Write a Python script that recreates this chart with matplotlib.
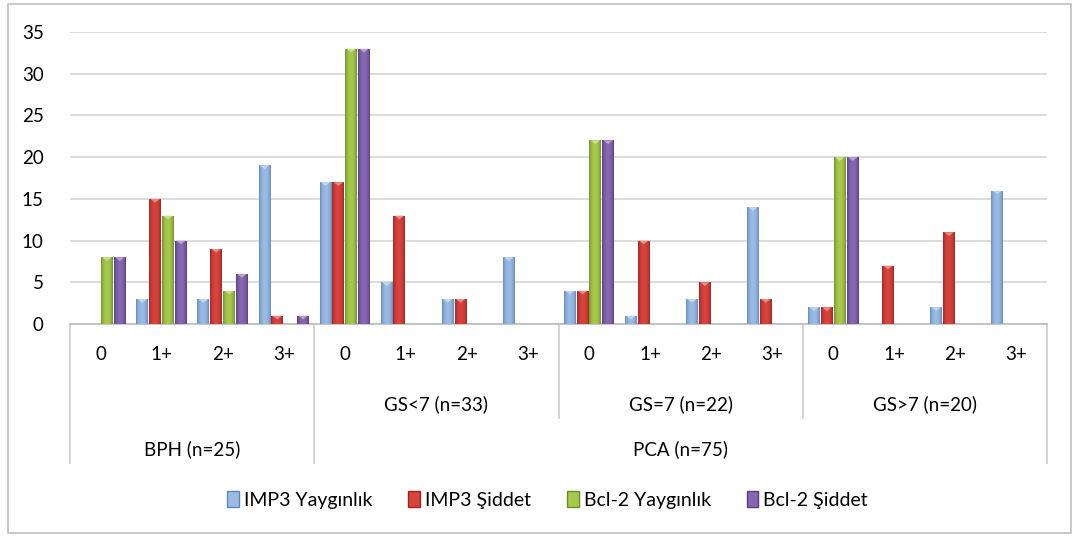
import numpy as np
import matplotlib
matplotlib.use("Agg")
from matplotlib import pyplot as plt
from matplotlib.patches import Rectangle, Polygon, Patch
from matplotlib.colors import to_rgb
import matplotlib.transforms as mtransforms

plt.rcParams['font.family'] = ['Lato', 'DejaVu Sans']

# data
levels = ['0', '1+', '2+', '3+'] * 4
subgroups = ['', 'GS<7 (n=33)', 'GS=7 (n=22)', 'GS>7 (n=20)']
topgroups = ['BPH (n=25)', 'PCA (n=75)']
series_names = ['IMP3 Yaygınlık', 'IMP3 Şiddet', 'Bcl-2 Yaygınlık', 'Bcl-2 Şiddet']
imp3_yaygin = [0, 3, 3, 19, 17, 5, 3, 8, 4, 1, 3, 14, 2, 0, 2, 16]
imp3_siddet = [0, 15, 9, 1, 17, 13, 3, 0, 4, 10, 5, 3, 2, 7, 11, 0]
bcl2_yaygin = [8, 13, 4, 0, 33, 0, 0, 0, 22, 0, 0, 0, 20, 0, 0, 0]
bcl2_siddet = [8, 10, 6, 1, 33, 0, 0, 0, 22, 0, 0, 0, 20, 0, 0, 0]
yticks = [0, 5, 10, 15, 20, 25, 30, 35]

# (center, edge) colours for the bevel look
colors = [('#9BBBE3', '#5E86BD'),
          ('#D8433D', '#9A2420'),
          ('#A6C94C', '#6C8C2A'),
          ('#8668B2', '#563B7E')]

W, H = 1078, 540
fig = plt.figure(figsize=(W / 100, H / 100), dpi=100)
ax = fig.add_axes([70 / W, 1 - 324 / H, (1047 - 70) / W, (324 - 32) / H])

x = np.arange(len(levels))
step = 0.21
bw = 0.195
t = np.linspace(0, 1, 64)
prof = np.sin(np.pi * t) ** 0.6

allvals = [imp3_yaygin, imp3_siddet, bcl2_yaygin, bcl2_siddet]
for i, vals in enumerate(allvals):
    c_in = np.array(to_rgb(colors[i][0]))
    c_out = np.array(to_rgb(colors[i][1]))
    grad = c_out[None, :] + (c_in - c_out)[None, :] * prof[:, None]
    grad = grad[None, :, :]
    bars = ax.bar(x + (i - 1.5) * step, vals, width=bw, color=colors[i][0],
                  edgecolor='none', zorder=3)
    for b in bars:
        h = b.get_height()
        if h <= 0:
            continue
        x0 = b.get_x()
        x1 = x0 + b.get_width()
        im = ax.imshow(grad, extent=(x0, x1, 0, h), aspect='auto', zorder=3.1,
                       interpolation='bilinear')
        im.set_clip_path(b)
        # little lighter bevel at the top
        light = tuple(np.clip(c_in * 0.5 + 0.5, 0, 1))
        tri = Polygon([(x0 + 0.02, h), (x1 - 0.02, h),
                       ((x0 + x1) / 2, h - 0.45)],
                      closed=True, facecolor=light, edgecolor='none',
                      alpha=0.8, zorder=3.2)
        ax.add_patch(tri)

ax.set_xlim(-0.5, len(levels) - 0.5)
ax.set_ylim(0, 35)
ax.set_yticks(yticks)
ax.yaxis.grid(True, color='#D9D9D9', linewidth=1.3, zorder=0)
ax.set_axisbelow(True)
for s in ['top', 'right', 'left']:
    ax.spines[s].set_visible(False)
ax.spines['bottom'].set_color('#BFBFBF')
ax.spines['bottom'].set_linewidth(1.3)
ax.tick_params(axis='y', length=0, labelsize=13.5, colors='#000000', pad=19)
ax.set_xticks([])

# category table below the plot, in pixel rows
def ypx(p):
    return (324 - p) / (324 - 32)

tr = mtransforms.blended_transform_factory(ax.transData, ax.transAxes)
line_kw = dict(color='#D0D0D0', linewidth=1.3, transform=tr, clip_on=False)

for xi, lab in zip(x, levels):
    ax.text(xi, ypx(354), lab, transform=tr, ha='center', va='center', fontsize=13.5)

for k, lab in enumerate(subgroups):
    if lab:
        ax.text(4 * k + 1.5, ypx(404), lab, transform=tr, ha='center',
                va='center', fontsize=13.5)

ax.text(1.5, ypx(449), topgroups[0], transform=tr, ha='center', va='center', fontsize=13.5)
ax.text(9.5, ypx(449), topgroups[1], transform=tr, ha='center', va='center', fontsize=13.5)

for xs in [-0.5, 3.5, 15.5]:
    ax.plot([xs, xs], [0, ypx(463)], **line_kw)
for xs in [7.5, 11.5]:
    ax.plot([xs, xs], [0, ypx(418)], **line_kw)

# legend
handles = []
for i in range(4):
    handles.append(Patch(facecolor=colors[i][0], edgecolor=colors[i][1], linewidth=1))
fig.legend(handles, series_names, loc='center', bbox_to_anchor=(0.508, 1 - 500 / H),
           ncol=4, frameon=False, fontsize=14, handlelength=0.6, handleheight=0.9,
           handletextpad=0.25, columnspacing=1.85)

# outer chart border
fig.patches.append(Rectangle((8 / W, 1 - 533 / H), (1071 - 8) / W, (533 - 4) / H,
                             transform=fig.transFigure, fill=False,
                             edgecolor='#BFBFBF', linewidth=1.2))

fig.savefig('out.png', dpi=100)
